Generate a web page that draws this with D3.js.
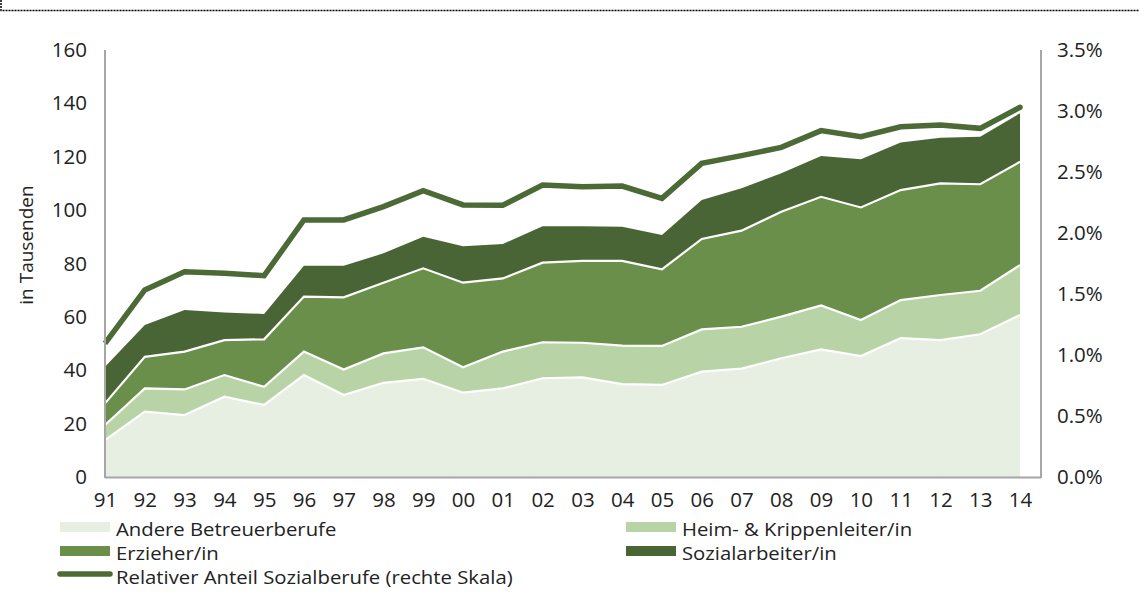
<!DOCTYPE html>
<html><head><meta charset="utf-8">
<script src="https://cdn.jsdelivr.net/npm/d3@7"></script>
<style>
html,body{margin:0;padding:0;background:#fff;}
svg{display:block;font-family:"Open Sans","Noto Sans",sans-serif;}
</style></head>
<body><svg id="c" width="1139" height="596"></svg>
<script>
const years = ["91","92","93","94","95","96","97","98","99","00","01","02","03","04","05","06","07","08","09","10","11","12","13","14"];
const andere = [13.8,24.5,23.2,30.1,27.0,38.2,30.7,35.3,36.8,31.6,33.2,37.0,37.3,34.8,34.5,39.5,40.6,44.5,47.8,45.3,52.0,51.3,53.5,60.7];
const heim   = [5.7,8.7,9.6,8.1,6.8,8.8,9.6,11.0,11.8,9.5,13.8,13.5,13.0,14.4,14.6,15.8,15.7,15.6,16.5,13.5,14.3,16.9,16.3,18.7];
const erzieher = [8.1,11.8,14.2,13.1,17.8,20.6,27.0,26.5,29.6,31.7,27.4,29.8,30.7,31.8,28.7,33.9,36.0,39.3,40.7,42.2,41.2,41.8,39.9,38.7];
const sozial = [13.7,12.0,15.6,10.3,9.5,11.6,11.9,11.0,11.8,13.7,12.9,13.7,13.0,12.8,12.9,14.6,15.9,14.4,15.3,18.1,17.8,17.1,17.8,18.2];
const anteil = [1.096,1.533,1.683,1.670,1.650,2.107,2.107,2.216,2.347,2.230,2.227,2.393,2.380,2.385,2.284,2.571,2.634,2.702,2.839,2.790,2.871,2.885,2.858,3.030];
const leftTicks = [0,20,40,60,80,100,120,140,160];
const rightTicks = [0,0.5,1.0,1.5,2.0,2.5,3.0,3.5];
const seriesNames = ["Andere Betreuerberufe","Heim- & Krippenleiter/in","Erzieher/in","Sozialarbeiter/in"];
const lineName = "Relativer Anteil Sozialberufe (rechte Skala)";
const colors = ["#e7eee2","#b8d4a7","#6a8f4b","#4a6535"];
const lineColor = "#4b6a35";

const svg = d3.select("#c");
const L = 105, R = 1041, T = 50, B = 477;
const x = d3.scalePoint().domain(years).range([L, 1020]);
const y = d3.scaleLinear().domain([0,160]).range([B, T]);
const y2 = d3.scaleLinear().domain([0,3.5]).range([B, T]);

// dotted frame
svg.append("path").attr("d","M1,0V10.5H1139").attr("fill","none")
  .attr("stroke","#000").attr("stroke-width",1.5).attr("stroke-dasharray","2,1");

const table = years.map((yr,i)=>({yr, a:andere[i], h:heim[i], e:erzieher[i], s:sozial[i]}));
const keys = ["a","h","e","s"];
const stack = d3.stack().keys(keys)(table);

const area = d3.area().x(d=>x(d.data.yr)).y0(d=>y(d[0])).y1(d=>y(d[1]));
svg.append("g").selectAll("path").data(stack).join("path")
  .attr("d", area).attr("fill",(d,i)=>colors[i]);
const topLine = d3.line().x(d=>x(d.data.yr)).y(d=>y(d[1]));
svg.append("g").selectAll("path").data(stack.slice(0,3)).join("path")
  .attr("d", topLine).attr("fill","none").attr("stroke","#fff").attr("stroke-width",2.2);

// relative share line
const ln = d3.line().x((d,i)=>x(years[i])).y(d=>y2(d));
svg.append("path").datum(anteil).attr("d", ln).attr("fill","none")
  .attr("stroke", lineColor).attr("stroke-width",5.5).attr("stroke-linecap","butt").attr("stroke-linejoin","miter");
svg.append("circle").attr("cx",x(years[years.length-1])).attr("cy",y2(anteil[anteil.length-1])).attr("r",2.75).attr("fill",lineColor);

// axes
const axisColor = "#a6a6a6";
svg.append("line").attr("x1",L).attr("x2",L).attr("y1",T).attr("y2",B+1).attr("stroke",axisColor).attr("stroke-width",2);
svg.append("line").attr("x1",R).attr("x2",R).attr("y1",T).attr("y2",B+1).attr("stroke",axisColor).attr("stroke-width",2);
svg.append("line").attr("x1",L).attr("x2",R).attr("y1",B+0.5).attr("y2",B+0.5).attr("stroke",axisColor).attr("stroke-width",2);

const gl = svg.append("g").attr("transform",`translate(${L},0)`)
  .call(d3.axisLeft(y).tickValues(leftTicks).tickSize(0).tickPadding(18));
const gr = svg.append("g").attr("transform",`translate(${R},0)`)
  .call(d3.axisRight(y2).tickValues(rightTicks).tickSize(0).tickPadding(16).tickFormat(d=>d3.format(".1f")(d)+"%"));
const gb = svg.append("g").attr("transform",`translate(0,${B})`)
  .call(d3.axisBottom(x).tickSize(0).tickPadding(15));
[gl,gr,gb].forEach(g=>{
  g.select(".domain").remove();
  g.selectAll("text").attr("font-size",20.5).attr("fill","#222").attr("font-family","'Open Sans',sans-serif");
});

svg.append("text").attr("transform","translate(26,245) rotate(-90)")
  .attr("text-anchor","middle").attr("dominant-baseline","central")
  .attr("font-size",19).attr("fill","#222").text("in Tausenden");

// legend
const leg = svg.append("g").attr("font-size",17.5).attr("fill","#222");
const pos = [[60,527],[626,527],[60,551],[626,551]];
seriesNames.forEach((n,i)=>{
  leg.append("rect").attr("x",pos[i][0]).attr("y",pos[i][1]-5).attr("width",50).attr("height",10).attr("fill",colors[i]);
  leg.append("text").attr("transform",`translate(${pos[i][0]+56},${pos[i][1]+3}) scale(1.16,1)`)
    .attr("dominant-baseline","central").text(n);
});
leg.append("line").attr("x1",60).attr("x2",110).attr("y1",574).attr("y2",574)
  .attr("stroke",lineColor).attr("stroke-width",5.5).attr("stroke-linecap","round");
leg.append("text").attr("transform","translate(116,578) scale(1.16,1)")
  .attr("dominant-baseline","central").text(lineName);
</script></body></html>
